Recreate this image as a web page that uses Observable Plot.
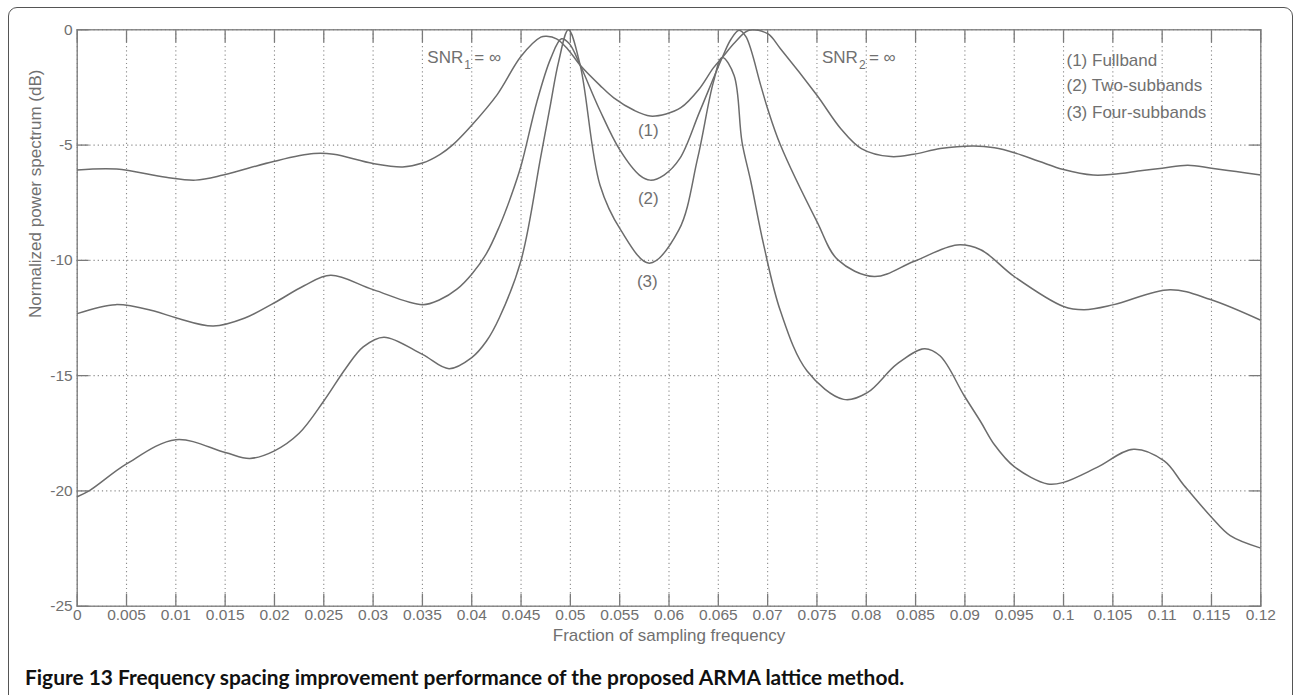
<!DOCTYPE html>
<html><head><meta charset="utf-8">
<script src="https://cdn.jsdelivr.net/npm/d3@7"></script>
<script src="https://cdn.jsdelivr.net/npm/@observablehq/plot@0.6"></script>
<style>
html,body{margin:0;padding:0;background:#fff;width:1294px;height:695px;overflow:hidden;}
#frame{position:absolute;left:8px;top:7px;width:1285px;height:740px;border:1.5px solid #555;border-radius:9px;box-sizing:border-box;}
#chart{position:absolute;left:0;top:0;}
#chart svg{font-family:"Liberation Sans",Arial,sans-serif;font-size:16px;}
#caption{position:absolute;left:25px;top:664px;font-family:Lato,"Open Sans",sans-serif;font-weight:700;font-size:20.9px;line-height:26px;color:#111;white-space:nowrap;}
</style></head><body>
<div id="frame"></div>
<div id="chart"></div>
<div id="caption">Figure 13 Frequency spacing improvement performance of the proposed ARMA lattice method.</div>
<script>
// (1) Fullband
const fullbandFreq = [0, 0.004, 0.009, 0.012, 0.0148, 0.02, 0.024, 0.026, 0.03, 0.033, 0.035, 0.0368, 0.0381, 0.04, 0.0426, 0.045, 0.047, 0.0476, 0.0486, 0.0497, 0.051, 0.053, 0.0544, 0.0565, 0.0581, 0.0597, 0.0612, 0.063, 0.0645, 0.0654, 0.0667, 0.0681, 0.07, 0.0713, 0.075, 0.0774, 0.0795, 0.0825, 0.0848, 0.0875, 0.0909, 0.093, 0.095, 0.0975, 0.1, 0.103, 0.105, 0.108, 0.11, 0.1126, 0.115, 0.1175, 0.12];
const fullbandDb = [-6.08, -6.04, -6.4, -6.52, -6.3, -5.7, -5.37, -5.4, -5.8, -5.95, -5.78, -5.4, -4.98, -4.14, -2.8, -1.15, -0.32, -0.28, -0.39, -0.82, -1.54, -2.41, -2.95, -3.5, -3.74, -3.65, -3.38, -2.6, -1.65, -1.2, -0.54, -0.02, -0.17, -0.82, -2.84, -4.28, -5.15, -5.5, -5.4, -5.15, -5.04, -5.12, -5.33, -5.7, -6.06, -6.3, -6.27, -6.1, -6.0, -5.87, -6.0, -6.15, -6.3];
// (2) Two-subbands
const twoSubFreq = [0, 0.0039, 0.0078, 0.01, 0.0138, 0.017, 0.02, 0.023, 0.0257, 0.03, 0.035, 0.0368, 0.0385, 0.04, 0.0415, 0.0428, 0.044, 0.045, 0.0466, 0.048, 0.0491, 0.0499, 0.051, 0.053, 0.055, 0.057, 0.0581, 0.0595, 0.0611, 0.0631, 0.0654, 0.0663, 0.0671, 0.0678, 0.0693, 0.07, 0.0713, 0.075, 0.0771, 0.0808, 0.0848, 0.0892, 0.0916, 0.095, 0.1, 0.1021, 0.1051, 0.1108, 0.1149, 0.12];
const twoSubDb = [-12.31, -11.92, -12.2, -12.49, -12.85, -12.5, -11.84, -11.1, -10.65, -11.27, -11.92, -11.7, -11.25, -10.6, -9.7, -8.53, -7.2, -5.9, -3.13, -1.25, -0.39, -0.6, -1.54, -3.5, -5.2, -6.3, -6.52, -6.3, -5.58, -3.56, -1.2, -0.4, -0.02, -0.3, -2.41, -3.42, -5.0, -8.32, -9.97, -10.7, -10.05, -9.33, -9.54, -10.7, -12.0, -12.14, -11.92, -11.27, -11.7, -12.6];
// (3) Four-subbands
const fourSubFreq = [0, 0.0012, 0.005, 0.01, 0.015, 0.0175, 0.02, 0.0225, 0.025, 0.0272, 0.029, 0.0311, 0.035, 0.0377, 0.04, 0.0415, 0.0428, 0.045, 0.047, 0.048, 0.0488, 0.0498, 0.051, 0.053, 0.0551, 0.058, 0.061, 0.0629, 0.0645, 0.0654, 0.0666, 0.0674, 0.0683, 0.0696, 0.0713, 0.074, 0.0777, 0.0801, 0.0831, 0.0859, 0.0875, 0.0899, 0.0916, 0.093, 0.095, 0.0984, 0.1, 0.1034, 0.1071, 0.1102, 0.1122, 0.115, 0.1169, 0.12];
const fourSubDb = [-20.25, -20.0, -18.83, -17.78, -18.33, -18.59, -18.26, -17.5, -16.1, -14.7, -13.75, -13.33, -14.08, -14.7, -14.22, -13.5, -12.49, -10.0, -5.5, -3.2, -1.4, 0, -1.54, -6.73, -8.68, -10.12, -8.68, -5.58, -2.27, -1.2, -1.98, -4.86, -6.59, -9.33, -12.2, -14.8, -16.03, -15.74, -14.5, -13.83, -14.15, -15.85, -17.0, -18.0, -18.95, -19.7, -19.63, -18.98, -18.19, -18.7, -19.75, -21.14, -21.94, -22.48];

const xTicks = [0, 0.005, 0.01, 0.015, 0.02, 0.025, 0.03, 0.035, 0.04, 0.045, 0.05, 0.055, 0.06, 0.065, 0.07, 0.075, 0.08, 0.085, 0.09, 0.095, 0.1, 0.105, 0.11, 0.115, 0.12];
const xTickLabels = ["0", "0.005", "0.01", "0.015", "0.02", "0.025", "0.03", "0.035", "0.04", "0.045", "0.05", "0.055", "0.06", "0.065", "0.07", "0.075", "0.08", "0.085", "0.09", "0.095", "0.1", "0.105", "0.11", "0.115", "0.12"];
const yTicks = [-25, -20, -15, -10, -5, 0];
const yTickLabels = ["-25", "-20", "-15", "-10", "-5", "0"];

const curveLabels = ["(1)", "(2)", "(3)"];
const curveLabelFreq = [0.0579, 0.0579, 0.0578];
const curveLabelDb = [-4.35, -7.3, -10.92];

const legendTexts = ["(1) Fullband", "(2) Two-subbands", "(3) Four-subbands"];
const legendFreq = [0.1003, 0.1003, 0.1003];
const legendDb = [-1.33, -2.42, -3.58];

const snrFreq = [0.0355, 0.0755];
const snrDb = [-1.2, -1.2];
const snrSubs = ["1", "2"];

const xLabel = "Fraction of sampling frequency";
const yLabel = "Normalized power spectrum (dB)";

const toRows = (fs, ds) => fs.map((f, i) => ({f, db: ds[i]}));
const s1 = toRows(fullbandFreq, fullbandDb);
const s2 = toRows(twoSubFreq, twoSubDb);
const s3 = toRows(fourSubFreq, fourSubDb);
const xTickRows = xTicks.map((v, i) => ({v, t: xTickLabels[i]}));
const yTickRows = yTicks.map((v, i) => ({v, t: yTickLabels[i]}));
const labelRows = curveLabels.map((t, i) => ({t, f: curveLabelFreq[i], db: curveLabelDb[i]}));
const legendRows = legendTexts.map((t, i) => ({t, f: legendFreq[i], db: legendDb[i]}));
const snrRows = snrFreq.map((f, i) => ({f, db: snrDb[i], sub: snrSubs[i]}));

const axisColor = "#7a7a7a";
const textColor = "#707070";
const lineColor = "#6c6c6c";
const gridStyle = {stroke: "#8c8c8c", strokeOpacity: 1, strokeWidth: 1.1, strokeDasharray: "1.2,3"};
const lineStyle = {x: "f", y: "db", curve: "catmull-rom", clip: true, stroke: lineColor, strokeWidth: 1.5};
const noLabels = () => "";

const chart = Plot.plot({
  width: 1294, height: 660,
  marginLeft: 76.7, marginRight: 33.7, marginTop: 29.3, marginBottom: 54.3,
  x: {domain: [0, 0.12]},
  y: {domain: [-25, 0]},
  style: {background: "transparent", color: textColor},
  marks: [
    Plot.gridX({ticks: xTicks, ...gridStyle}),
    Plot.gridY({ticks: yTicks, ...gridStyle}),
    Plot.axisX({ticks: xTicks, anchor: "bottom", tickSize: -12, tickFormat: noLabels, label: null, stroke: axisColor, strokeWidth: 1.3}),
    Plot.axisX({ticks: xTicks, anchor: "top", tickSize: -12, tickFormat: noLabels, label: null, stroke: axisColor, strokeWidth: 1.3}),
    Plot.axisY({ticks: yTicks, anchor: "left", tickSize: -12, tickFormat: noLabels, label: null, stroke: axisColor, strokeWidth: 1.3}),
    Plot.axisY({ticks: yTicks, anchor: "right", tickSize: -12, tickFormat: noLabels, label: null, stroke: axisColor, strokeWidth: 1.3}),
    Plot.frame({stroke: axisColor, strokeWidth: 1.3}),
    Plot.text(xTickRows, {x: "v", text: "t", frameAnchor: "bottom", dy: 13.5, fontSize: 15.5, fill: textColor}),
    Plot.text(yTickRows, {y: "v", text: "t", frameAnchor: "left", textAnchor: "end", dx: -4.5, fontSize: 15.5, fill: textColor}),
    Plot.line(s1, lineStyle),
    Plot.line(s2, lineStyle),
    Plot.line(s3, lineStyle),
    Plot.text(labelRows, {x: "f", y: "db", text: "t", fontSize: 17, fill: textColor}),
    Plot.text(legendRows, {x: "f", y: "db", text: "t", textAnchor: "start", fontSize: 17, fill: textColor}),
    Plot.text(snrRows, {x: "f", y: "db", text: () => "SNR", textAnchor: "start", fontSize: 17, fill: textColor}),
    Plot.text(snrRows, {x: "f", y: "db", text: "sub", textAnchor: "start", fontSize: 12, dx: 37, dy: 8, fill: textColor}),
    Plot.text(snrRows, {x: "f", y: "db", text: () => "= \u221E", textAnchor: "start", fontSize: 17, dx: 47, fill: textColor}),
    Plot.text([xLabel], {frameAnchor: "bottom", dy: 34.3, fontSize: 17, fill: textColor}),
    Plot.text([yLabel], {frameAnchor: "left", rotate: -90, dx: -42, fontSize: 17, fill: textColor})
  ]
});
document.getElementById("chart").append(chart);
</script>
</body></html>
